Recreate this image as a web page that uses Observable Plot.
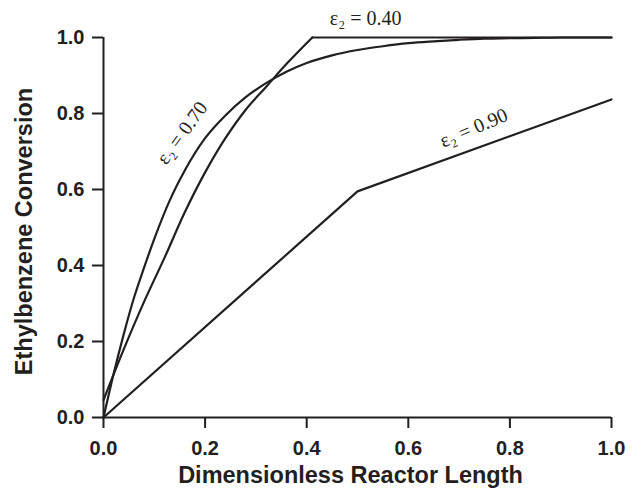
<!DOCTYPE html>
<html>
<head>
<meta charset="utf-8">
<script src="https://cdn.jsdelivr.net/npm/d3@7"></script>
<script src="https://cdn.jsdelivr.net/npm/@observablehq/plot@0.6"></script>
<style>
  html, body { margin: 0; padding: 0; background: #ffffff; }
  svg [aria-label*="axis"] line, svg [aria-label*="axis"] path { stroke-width: 2px; }
</style>
</head>
<body>
<div id="chart"></div>
<script>
// Tick values
const xTicks = [0, 0.2, 0.4, 0.6, 0.8, 1.0];
const yTicks = [0, 0.2, 0.4, 0.6, 0.8, 1.0];

// eps2 = 0.40 (rises to complete conversion at x = 0.411, then flat)
const x040 = [0, 0.04, 0.08, 0.12, 0.16, 0.20, 0.24, 0.28, 0.32, 0.36, 0.411, 1.0];
const y040 = [0.046, 0.18, 0.305, 0.42, 0.54, 0.645, 0.735, 0.81, 0.87, 0.93, 1.0, 1.0];
const corner040 = 0.411;

// eps2 = 0.70
const x070 = [0, 0.02, 0.04, 0.06, 0.08, 0.10, 0.13, 0.16, 0.20, 0.24, 0.28, 0.32, 0.36, 0.40, 0.45, 0.50, 0.55, 0.60, 0.65, 0.70, 0.75, 0.80, 0.85, 0.90, 1.0];
const y070 = [0, 0.115, 0.22, 0.315, 0.395, 0.47, 0.57, 0.65, 0.735, 0.795, 0.843, 0.88, 0.91, 0.933, 0.953, 0.967, 0.977, 0.985, 0.99, 0.994, 0.997, 0.998, 0.999, 1.0, 1.0];

// eps2 = 0.90
const x090 = [0, 0.5, 1.0];
const y090 = [0, 0.595, 0.837];

// Curve labels
const labelText = ["ε₂ = 0.40", "ε₂ = 0.70", "ε₂ = 0.90"];
const labelX = [0.516, 0.155, 0.729];
const labelY = [1.05, 0.749, 0.762];
const labelAngle = [0, -54, -23];

const ink = "#231f20";
const toRows = (xs, ys) => xs.map((x, i) => ({x, y: ys[i]}));
const rows040 = toRows(x040, y040);
const labels = labelText.map((t, i) => ({text: t, x: labelX[i], y: labelY[i], angle: labelAngle[i]}));

const chart = Plot.plot({
  width: 633,
  height: 490,
  marginLeft: 103,
  marginRight: 22,
  marginTop: 37,
  marginBottom: 73,
  style: {fontFamily: "'Liberation Sans', Arial, sans-serif", fontSize: "20px", fontWeight: "bold", color: ink, background: "#ffffff"},
  x: {domain: [0, 1], ticks: xTicks, tickFormat: d3.format(".1f"), tickSize: 11, tickPadding: 12, label: null},
  y: {domain: [0, 1], ticks: yTicks, tickFormat: d3.format(".1f"), tickSize: 11, tickPadding: 8, label: null},
  marks: [
    Plot.ruleX([0], {stroke: ink, strokeWidth: 2}),
    Plot.ruleY([0], {stroke: ink, strokeWidth: 2}),
    Plot.line(toRows(x090, y090), {x: "x", y: "y", stroke: ink, strokeWidth: 2.2}),
    Plot.line(rows040.filter(d => d.x <= corner040), {x: "x", y: "y", stroke: ink, strokeWidth: 2.2, curve: "catmull-rom"}),
    Plot.line(rows040.filter(d => d.x >= corner040), {x: "x", y: "y", stroke: ink, strokeWidth: 2.2}),
    Plot.line(toRows(x070, y070), {x: "x", y: "y", stroke: ink, strokeWidth: 2.2, curve: "monotone-x"}),
    Plot.text(labels, {x: "x", y: "y", text: "text", rotate: "angle", fill: ink, fontFamily: "'Liberation Serif', 'Times New Roman', serif", fontWeight: "normal", fontSize: 20, clip: false}),
    Plot.text(["Dimensionless Reactor Length"], {frameAnchor: "bottom", textAnchor: "middle", lineAnchor: "middle", dx: -7, dy: 58, fill: ink, fontSize: 23.5, fontWeight: "bold"}),
    Plot.text(["Ethylbenzene Conversion"], {frameAnchor: "left", textAnchor: "middle", lineAnchor: "middle", rotate: -90, dx: -79, dy: 4, fill: ink, fontSize: 23.5, fontWeight: "bold"})
  ]
});
document.getElementById("chart").appendChild(chart);
</script>
</body>
</html>
